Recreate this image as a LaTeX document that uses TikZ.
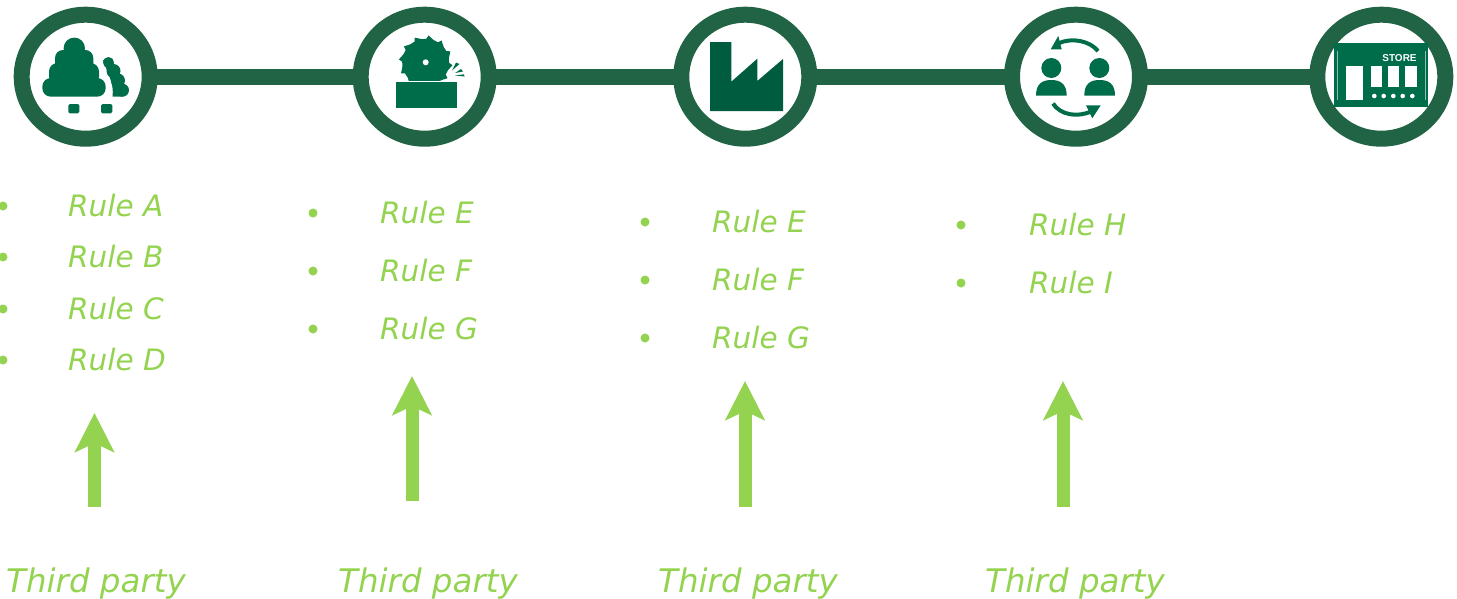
\documentclass[tikz,border=0pt]{standalone}
\usepackage{fontspec}
\setmainfont{DejaVu Sans}
\newfontfamily\storefont{Liberation Sans}
\usetikzlibrary{arrows.meta,shapes.geometric}
\definecolor{ringgreen}{HTML}{216345}
\definecolor{icongreen}{HTML}{006D4A}
\definecolor{factorygreen}{HTML}{005C3E}
\definecolor{lightgreen}{HTML}{94D350}
\tikzset{
  stage/.style={ellipse,draw=ringgreen,line width=16pt,fill=white,minimum width=128pt,minimum height=124pt,inner sep=0pt},
  bar/.style={draw=ringgreen,line width=16pt,shorten <=-2pt,shorten >=-2pt},
  rule/.style={anchor=base west,inner sep=0pt,text=lightgreen,font=\fontsize{29.5}{30}\selectfont\itshape},
  party/.style={anchor=base west,inner sep=0pt,text=lightgreen,font=\fontsize{32.5}{33}\selectfont\itshape},
  dot/.style={circle,fill=lightgreen,inner sep=0pt,minimum size=9pt},
  feed/.style={draw=lightgreen,line width=13pt,-{Stealth[length=39pt,width=39pt,inset=9pt]}},
  icon/.style={fill=icongreen,draw=none},
  hole/.style={fill=white,draw=none}
}
\begin{document}
\begin{tikzpicture}[x=1pt,y=-1pt]
  \useasboundingbox (0,0) rectangle (1457,598);
  \node (stage_forest)  at (85.7,76.7)   [stage] {};
  \node (stage_saw)     at (424.7,76.7)  [stage] {};
  \node (stage_factory) at (745.3,76.7)  [stage] {};
  \node (stage_trade)   at (1076,76.7)   [stage] {};
  \node (stage_store)   at (1381.3,76.7) [stage] {};
  \draw[bar] (stage_forest) -- (stage_saw);
  \draw[bar] (stage_saw) -- (stage_factory);
  \draw[bar] (stage_factory) -- (stage_trade);
  \draw[bar] (stage_trade) -- (stage_store);

  % forest
  \fill[icon] (74.3,48.3) circle (10.7);
  \fill[icon,rounded corners=8pt] (55,50) rectangle (93.3,72);
  \fill[icon,rounded corners=8.5pt] (49,63) rectangle (99,85);
  \fill[icon,rounded corners=8.5pt] (42.3,78) rectangle (105.7,96.7);
  \fill[icon] (108.5,62.5) circle (5.5) (113.5,71) circle (7) (118,80.5) circle (7) (122.5,90.2) circle (6.5);
  \fill[icon] (103,60) .. controls (107,72) and (114.5,84) .. (112.5,96.7) -- (123,96.7) -- (120,78) -- (112,60) -- cycle;
  \fill[icon,rounded corners=1.5pt] (68.3,104) rectangle (79.3,113.3);
  \fill[icon,rounded corners=1.5pt] (101,104) rectangle (112.3,113.3);

  % saw
  \begin{scope}
    \clip (395,30) rectangle (460,80);
    \fill[icon] (425.7,62.3) circle (23.5);
    \foreach \a in {0,30,...,330} {
      \fill[icon,shift={(425.7,62.3)}] (\a:22.5) -- (\a+6:27) -- (\a+28:22.5) -- cycle;
    }
  \end{scope}
  \fill[hole] (425.7,62.3) circle (3);
  \fill[icon] (452,70.5) -- (456,62.5) -- (459.5,64) -- cycle;
  \fill[icon] (455,73) -- (461,69) -- (463,71.5) -- cycle;
  \fill[icon] (455,75.5) -- (464,74.3) -- (464.5,76.5) -- cycle;
  \fill[icon] (395.7,82.3) rectangle (456.5,107.7);

  % factory
  \fill[factorygreen] (710,42) -- (731.3,42) -- (731.3,81.7) -- (757.3,58.7) -- (757.3,81) -- (783,59) -- (783,111) -- (710,111) -- cycle;

  % trade
  \fill[icon] (1051.3,68) circle (10) (1099.3,68) circle (10);
  \fill[icon] (1036,95.7) .. controls (1036,84) and (1042,80) .. (1051.3,80) .. controls (1060.5,80) and (1066.7,84) .. (1066.7,95.7) -- cycle;
  \fill[icon] (1084.3,95.7) .. controls (1084.3,84) and (1090,80) .. (1099.6,80) .. controls (1109,80) and (1115,84) .. (1115,95.7) -- cycle;
  \draw[icongreen,line width=4pt] (1098,51) .. controls (1090,41) and (1072,37) .. (1058,43.5);
  \fill[icon] (1050.7,49.3) -- (1058.3,36) -- (1061.7,49.3) -- cycle;
  \draw[icongreen,line width=4pt] (1053,103.5) .. controls (1060,115) and (1078,118) .. (1092,111);
  \fill[icon] (1100.7,105.3) -- (1086,105.3) -- (1092.3,118.3) -- cycle;

  % store
  \fill[icon] (1334,43.3) rectangle (1427.7,106.7);
  \draw[white!55!icongreen,line width=1pt] (1337,51) -- (1337,100);
  \draw[white!55!icongreen,line width=1pt] (1425,51) -- (1425,100);
  \fill[hole] (1345.7,66) rectangle (1363.3,100);
  \fill[hole] (1371,66) rectangle (1382,87.3);
  \fill[hole] (1388,66) rectangle (1399.3,87.3);
  \fill[hole] (1405,66) rectangle (1416.7,87.3);
  \foreach \x in {1374.3,1383.7,1393.3,1402.7,1412.3} {
    \fill[hole] (\x,96) circle (2.3);
  }
  \node (store_sign) at (1399.5,58) [inner sep=0pt,text=white,font=\storefont\fontsize{10}{10}\selectfont\bfseries] {STORE};

  % rules
  \node (dot_a) at (3,206) [dot] {};
  \node (dot_b) at (3,257) [dot] {};
  \node (dot_c) at (3,309) [dot] {};
  \node (dot_d) at (3,360) [dot] {};
  \node (rule_a) at (68,216) [rule] {Rule A};
  \node (rule_b) at (68,267) [rule] {Rule B};
  \node (rule_c) at (68,319) [rule] {Rule C};
  \node (rule_d) at (68,370) [rule] {Rule D};

  \node (dot_e) at (313,213) [dot] {};
  \node (dot_f) at (313,271) [dot] {};
  \node (dot_g) at (313,329) [dot] {};
  \node (rule_e) at (380,223) [rule] {Rule E};
  \node (rule_f) at (380,281) [rule] {Rule F};
  \node (rule_g) at (380,339) [rule] {Rule G};

  \node (dot_e2) at (645,222) [dot] {};
  \node (dot_f2) at (645,280) [dot] {};
  \node (dot_g2) at (645,338) [dot] {};
  \node (rule_e2) at (712,232) [rule] {Rule E};
  \node (rule_f2) at (712,290) [rule] {Rule F};
  \node (rule_g2) at (712,348) [rule] {Rule G};

  \node (dot_h) at (961,225) [dot] {};
  \node (dot_i) at (961,283) [dot] {};
  \node (rule_h) at (1029,235) [rule] {Rule H};
  \node (rule_i) at (1029,293) [rule] {Rule I};

  % third parties
  \node (party_forest)  at (6,592)   [party] {Third party};
  \node (party_saw)     at (338,592) [party] {Third party};
  \node (party_factory) at (658,592) [party] {Third party};
  \node (party_trade)   at (985,592) [party] {Third party};

  \coordinate (feed_forest_s)  at (94.5,507);
  \coordinate (feed_forest_t)  at (94.5,413);
  \coordinate (feed_saw_s)     at (412,501);
  \coordinate (feed_saw_t)     at (412,376);
  \coordinate (feed_factory_s) at (745,507);
  \coordinate (feed_factory_t) at (745,381);
  \coordinate (feed_trade_s)   at (1063,507);
  \coordinate (feed_trade_t)   at (1063,381);
  \draw[feed] (feed_forest_s) -- (feed_forest_t);
  \draw[feed] (feed_saw_s) -- (feed_saw_t);
  \draw[feed] (feed_factory_s) -- (feed_factory_t);
  \draw[feed] (feed_trade_s) -- (feed_trade_t);
\end{tikzpicture}
\end{document}
